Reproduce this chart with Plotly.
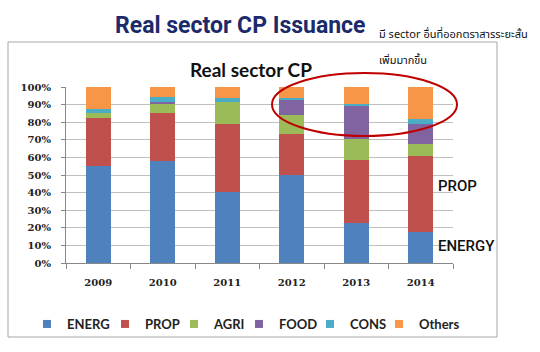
import plotly.graph_objects as go

years = ["2009", "2010", "2011", "2012", "2013", "2014"]
energ = [55.3, 58.2, 40.2, 50.2, 23.0, 17.5]
prop = [27.2, 26.9, 39.0, 23.0, 35.5, 43.1]
agri = [2.8, 5.5, 12.1, 10.8, 11.7, 7.3]
food = [0.0, 0.7, 0.0, 8.8, 19.0, 11.0]
cons = [2.2, 3.0, 2.5, 1.0, 1.4, 3.2]
others = [12.5, 5.7, 6.2, 6.2, 9.4, 17.9]

series_names = ["ENERG", "PROP", "AGRI", "FOOD", "CONS", "Others"]
series_vals = [energ, prop, agri, food, cons, others]
series_colors = ["#4F81BD", "#C0504D", "#9BBB59", "#8064A2", "#4BACC6", "#F79646"]
legend_widths = [33, 24, 20, 26, 24, None]

W, H = 540, 352
L, R, T, B = 66, 453, 87, 263  # plot area pixel box

def px(x):
    return (x - L) / (R - L)

def py(y):
    return (B - y) / (B - T)

fig = go.Figure()
for name, vals, color in zip(series_names, series_vals, series_colors):
    fig.add_trace(go.Bar(
        x=years, y=[v / 100 for v in vals], name=name,
        marker=dict(color=color, line=dict(width=0)),
        showlegend=False,
    ))
for name, color, lw in zip(series_names, series_colors, legend_widths):
    kw = dict(legendwidth=lw) if lw else {}
    fig.add_trace(go.Scatter(
        x=[None], y=[None], mode="markers", name=name,
        marker=dict(symbol="square", size=8, color=color), **kw,
    ))

fig.update_layout(
    width=W, height=H,
    margin=dict(l=L, r=W - R, t=T, b=H - B, pad=0),
    barmode="stack", bargap=0.61,
    plot_bgcolor="white", paper_bgcolor="white",
    showlegend=True,
    legend=dict(
        orientation="h", traceorder="normal",
        x=px(27), xanchor="left", y=py(324), yanchor="middle",
        font=dict(family="Lato", size=13, color="#222222", weight="bold"),
        itemwidth=30, bgcolor="rgba(0,0,0,0)",
    ),
    xaxis=dict(
        showline=True, linecolor="#888888", linewidth=1,
        ticks="outside", ticklen=5, tickcolor="#888888", tickson="boundaries",
        tickfont=dict(family="DejaVu Serif", size=10, color="#222222", weight="bold"),
        ticklabelstandoff=10,
        showgrid=False,
    ),
    yaxis=dict(
        range=[0, 1], dtick=0.1, tickformat=".0%",
        showline=True, linecolor="#888888", linewidth=1,
        ticks="outside", ticklen=4, tickcolor="#888888",
        showgrid=True, gridcolor="#BFBFBF", gridwidth=1,
        tickfont=dict(family="DejaVu Serif", size=10, color="#222222", weight="bold"),
        ticklabelstandoff=8,
        zeroline=False,
    ),
    shapes=[
        dict(type="rect", xref="paper", yref="paper",
             x0=px(8), x1=px(497), y0=py(337), y1=py(42),
             line=dict(color="#A6A6A6", width=1), layer="below"),
        dict(type="circle", xref="paper", yref="paper",
             x0=px(272), x1=px(457), y0=py(136), y1=py(73),
             line=dict(color="#C00000", width=2)),
    ],
    annotations=[
        dict(text="Real sector CP Issuance", xref="paper", yref="paper",
             x=px(240), y=py(25), xanchor="center", yanchor="middle", showarrow=False,
             font=dict(family="Roboto", size=23, color="#1B2A6B", weight="bold")),
        dict(text="Real sector CP", xref="paper", yref="paper",
             x=px(251), y=py(69), xanchor="center", yanchor="middle", showarrow=False,
             font=dict(family="Lato", size=19, color="#111111", weight="bold")),
        dict(text="มี sector อื่นที่ออกตราสารระยะสั้น", xref="paper", yref="paper",
             x=px(377), y=py(34), xanchor="left", yanchor="middle", showarrow=False,
             font=dict(family="Noto Sans Thai, Noto Sans, sans-serif", size=11, color="#111111")),
        dict(text="เพิ่มมากขึ้น", xref="paper", yref="paper",
             x=px(377), y=py(60), xanchor="left", yanchor="middle", showarrow=False,
             font=dict(family="Noto Sans Thai, Noto Sans, sans-serif", size=11, color="#111111")),
        dict(text="PROP", xref="paper", yref="paper",
             x=px(436), y=py(186), xanchor="left", yanchor="middle", showarrow=False,
             font=dict(family="Roboto", size=15, color="#111111", weight=500)),
        dict(text="ENERGY", xref="paper", yref="paper",
             x=px(436), y=py(246), xanchor="left", yanchor="middle", showarrow=False,
             font=dict(family="Roboto", size=15, color="#111111", weight=500)),
    ],
)

fig.write_html("out.html")
